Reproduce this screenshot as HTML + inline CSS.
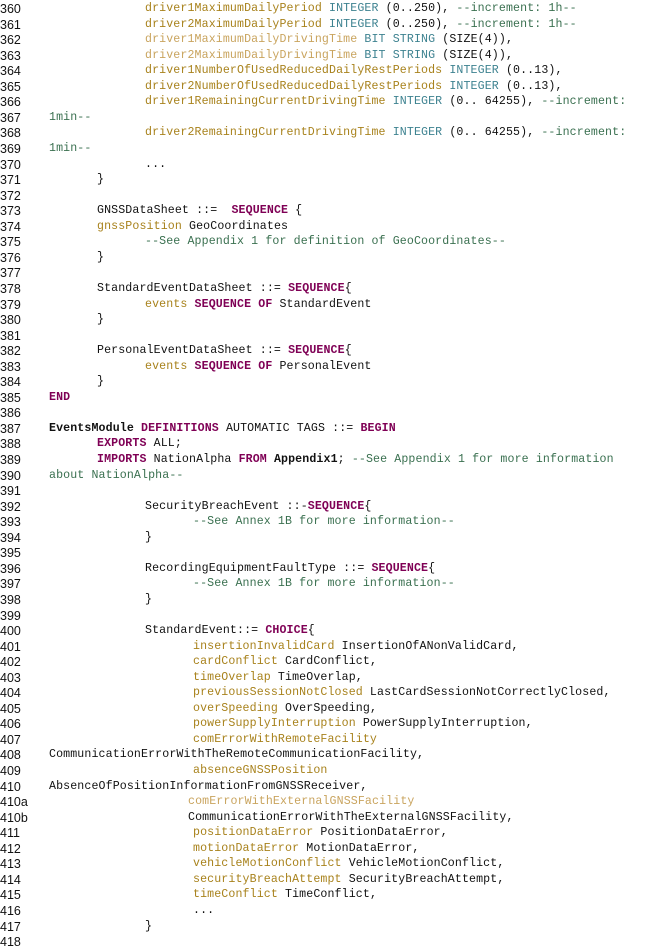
<!DOCTYPE html>
<html><head><meta charset="utf-8"><style>
html,body{margin:0;padding:0;background:#fff;width:648px;height:950px;overflow:hidden;position:relative}
.r{position:absolute;left:0;height:16px;line-height:16px;white-space:pre;font-family:"Liberation Mono",monospace;font-size:11.6px;letter-spacing:0.12px;color:#111}
.n{position:absolute;left:0;font-family:"Liberation Sans",sans-serif;font-size:12.5px;letter-spacing:0;color:#111}
.x{position:absolute}
.a0{left:49px}.a1{left:97px}.a2{left:145px}.a3{left:193px}.a4{left:188px}
.k{color:#7f0055;font-weight:bold}
.f{color:#a8821c}
.fl{color:#c9a45e}
.t{color:#3d8290}
.c{color:#3a7050}
</style></head><body>
<div class="r" style="top:1px"><span class="n">360</span><span class="x a2"><span class="f">driver1MaximumDailyPeriod</span> <span class="t">INTEGER</span> (0..250), <span class="c">--increment: 1h--</span></span></div>
<div class="r" style="top:16.6px"><span class="n">361</span><span class="x a2"><span class="f">driver2MaximumDailyPeriod</span> <span class="t">INTEGER</span> (0..250), <span class="c">--increment: 1h--</span></span></div>
<div class="r" style="top:32.1px"><span class="n">362</span><span class="x a2"><span class="fl">driver1MaximumDailyDrivingTime</span> <span class="t">BIT STRING</span> (SIZE(4)),</span></div>
<div class="r" style="top:47.7px"><span class="n">363</span><span class="x a2"><span class="fl">driver2MaximumDailyDrivingTime</span> <span class="t">BIT STRING</span> (SIZE(4)),</span></div>
<div class="r" style="top:63.2px"><span class="n">364</span><span class="x a2"><span class="f">driver1NumberOfUsedReducedDailyRestPeriods</span> <span class="t">INTEGER</span> (0..13),</span></div>
<div class="r" style="top:78.8px"><span class="n">365</span><span class="x a2"><span class="f">driver2NumberOfUsedReducedDailyRestPeriods</span> <span class="t">INTEGER</span> (0..13),</span></div>
<div class="r" style="top:94.3px"><span class="n">366</span><span class="x a2"><span class="f">driver1RemainingCurrentDrivingTime</span> <span class="t">INTEGER</span> (0.. 64255), <span class="c">--increment:</span></span></div>
<div class="r" style="top:109.9px"><span class="n">367</span><span class="x a0 c">1min--</span></div>
<div class="r" style="top:125.4px"><span class="n">368</span><span class="x a2"><span class="f">driver2RemainingCurrentDrivingTime</span> <span class="t">INTEGER</span> (0.. 64255), <span class="c">--increment:</span></span></div>
<div class="r" style="top:141px"><span class="n">369</span><span class="x a0 c">1min--</span></div>
<div class="r" style="top:156.5px"><span class="n">370</span><span class="x a2">...</span></div>
<div class="r" style="top:172.1px"><span class="n">371</span><span class="x a1">}</span></div>
<div class="r" style="top:187.6px"><span class="n">372</span></div>
<div class="r" style="top:203.2px"><span class="n">373</span><span class="x a1">GNSSDataSheet ::=  <span class="k">SEQUENCE</span> {</span></div>
<div class="r" style="top:218.7px"><span class="n">374</span><span class="x a1"><span class="f">gnssPosition</span> GeoCoordinates</span></div>
<div class="r" style="top:234.3px"><span class="n">375</span><span class="x a2 c">--See Appendix 1 for definition of GeoCoordinates--</span></div>
<div class="r" style="top:249.8px"><span class="n">376</span><span class="x a1">}</span></div>
<div class="r" style="top:265.4px"><span class="n">377</span></div>
<div class="r" style="top:280.9px"><span class="n">378</span><span class="x a1">StandardEventDataSheet ::= <span class="k">SEQUENCE</span>{</span></div>
<div class="r" style="top:296.5px"><span class="n">379</span><span class="x a2"><span class="f">events</span> <span class="k">SEQUENCE OF</span> StandardEvent</span></div>
<div class="r" style="top:312px"><span class="n">380</span><span class="x a1">}</span></div>
<div class="r" style="top:327.6px"><span class="n">381</span></div>
<div class="r" style="top:343.1px"><span class="n">382</span><span class="x a1">PersonalEventDataSheet ::= <span class="k">SEQUENCE</span>{</span></div>
<div class="r" style="top:358.7px"><span class="n">383</span><span class="x a2"><span class="f">events</span> <span class="k">SEQUENCE OF</span> PersonalEvent</span></div>
<div class="r" style="top:374.2px"><span class="n">384</span><span class="x a1">}</span></div>
<div class="r" style="top:389.8px"><span class="n">385</span><span class="x a0 k">END</span></div>
<div class="r" style="top:405.3px"><span class="n">386</span></div>
<div class="r" style="top:420.9px"><span class="n">387</span><span class="x a0"><b>EventsModule</b> <span class="k">DEFINITIONS</span> AUTOMATIC TAGS ::= <span class="k">BEGIN</span></span></div>
<div class="r" style="top:436.4px"><span class="n">388</span><span class="x a1"><span class="k">EXPORTS</span> ALL;</span></div>
<div class="r" style="top:452px"><span class="n">389</span><span class="x a1"><span class="k">IMPORTS</span> NationAlpha <span class="k">FROM</span> <b>Appendix1</b>; <span class="c">--See Appendix 1 for more information</span></span></div>
<div class="r" style="top:467.5px"><span class="n">390</span><span class="x a0 c">about NationAlpha--</span></div>
<div class="r" style="top:483.1px"><span class="n">391</span></div>
<div class="r" style="top:498.6px"><span class="n">392</span><span class="x a2">SecurityBreachEvent ::-<span class="k">SEQUENCE</span>{</span></div>
<div class="r" style="top:514.2px"><span class="n">393</span><span class="x a3 c">--See Annex 1B for more information--</span></div>
<div class="r" style="top:529.7px"><span class="n">394</span><span class="x a2">}</span></div>
<div class="r" style="top:545.3px"><span class="n">395</span></div>
<div class="r" style="top:560.8px"><span class="n">396</span><span class="x a2">RecordingEquipmentFaultType ::= <span class="k">SEQUENCE</span>{</span></div>
<div class="r" style="top:576.4px"><span class="n">397</span><span class="x a3 c">--See Annex 1B for more information--</span></div>
<div class="r" style="top:591.9px"><span class="n">398</span><span class="x a2">}</span></div>
<div class="r" style="top:607.5px"><span class="n">399</span></div>
<div class="r" style="top:623px"><span class="n">400</span><span class="x a2">StandardEvent::= <span class="k">CHOICE</span>{</span></div>
<div class="r" style="top:638.6px"><span class="n">401</span><span class="x a3"><span class="f">insertionInvalidCard</span> InsertionOfANonValidCard,</span></div>
<div class="r" style="top:654.1px"><span class="n">402</span><span class="x a3"><span class="f">cardConflict</span> CardConflict,</span></div>
<div class="r" style="top:669.7px"><span class="n">403</span><span class="x a3"><span class="f">timeOverlap</span> TimeOverlap,</span></div>
<div class="r" style="top:685.2px"><span class="n">404</span><span class="x a3"><span class="f">previousSessionNotClosed</span> LastCardSessionNotCorrectlyClosed,</span></div>
<div class="r" style="top:700.8px"><span class="n">405</span><span class="x a3"><span class="f">overSpeeding</span> OverSpeeding,</span></div>
<div class="r" style="top:716.3px"><span class="n">406</span><span class="x a3"><span class="f">powerSupplyInterruption</span> PowerSupplyInterruption,</span></div>
<div class="r" style="top:731.9px"><span class="n">407</span><span class="x a3 f">comErrorWithRemoteFacility</span></div>
<div class="r" style="top:747.4px"><span class="n">408</span><span class="x a0">CommunicationErrorWithTheRemoteCommunicationFacility,</span></div>
<div class="r" style="top:763px"><span class="n">409</span><span class="x a3 f">absenceGNSSPosition</span></div>
<div class="r" style="top:778.5px"><span class="n">410</span><span class="x a0">AbsenceOfPositionInformationFromGNSSReceiver,</span></div>
<div class="r" style="top:794.1px"><span class="n">410a</span><span class="x a4 fl">comErrorWithExternalGNSSFacility</span></div>
<div class="r" style="top:809.6px"><span class="n">410b</span><span class="x a4">CommunicationErrorWithTheExternalGNSSFacility,</span></div>
<div class="r" style="top:825.2px"><span class="n">411</span><span class="x a3"><span class="f">positionDataError</span> PositionDataError,</span></div>
<div class="r" style="top:840.7px"><span class="n">412</span><span class="x a3"><span class="f">motionDataError</span> MotionDataError,</span></div>
<div class="r" style="top:856.3px"><span class="n">413</span><span class="x a3"><span class="f">vehicleMotionConflict</span> VehicleMotionConflict,</span></div>
<div class="r" style="top:871.8px"><span class="n">414</span><span class="x a3"><span class="f">securityBreachAttempt</span> SecurityBreachAttempt,</span></div>
<div class="r" style="top:887.4px"><span class="n">415</span><span class="x a3"><span class="f">timeConflict</span> TimeConflict,</span></div>
<div class="r" style="top:902.9px"><span class="n">416</span><span class="x a3">...</span></div>
<div class="r" style="top:918.5px"><span class="n">417</span><span class="x a2">}</span></div>
<div class="r" style="top:934px"><span class="n">418</span></div>
</body></html>
